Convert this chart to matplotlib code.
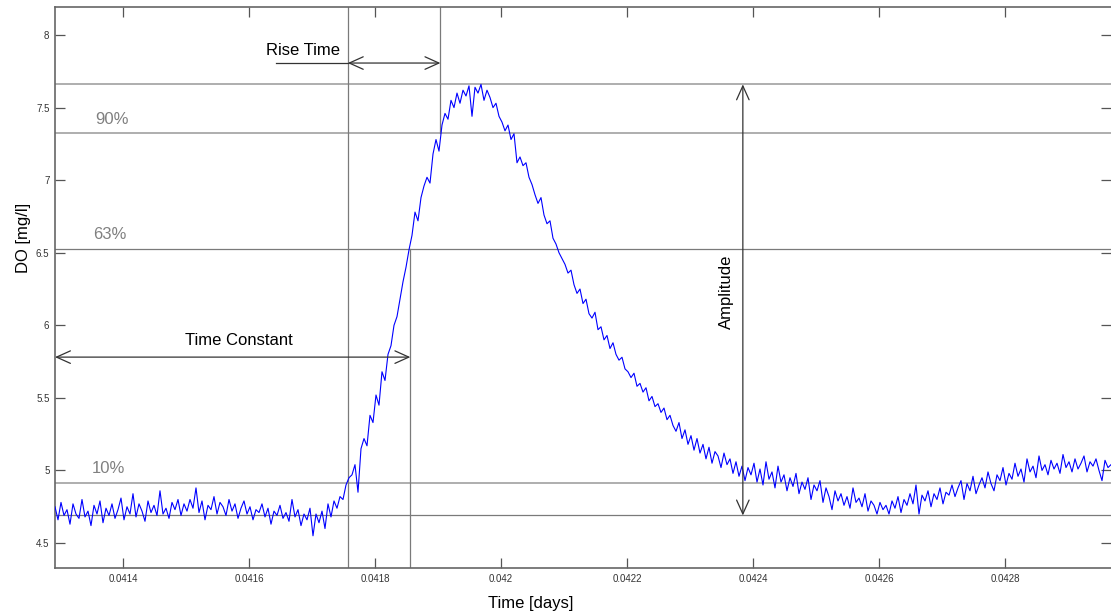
"""DO sensor step response: rise time, time constant and amplitude annotations."""

import matplotlib

matplotlib.use("Agg")
import matplotlib.pyplot as plt  # noqa: E402
import numpy as np  # noqa: E402
from matplotlib.patches import FancyArrowPatch  # noqa: E402

plt.rcParams["font.family"] = ["Liberation Sans", "DejaVu Sans"]

# sample clock of the logger (days)
T_START = 0.041292
T_END = 0.042968

# DO readings [mg/l] (one value every ~4.8e-6 days)
do_baseline = [
    4.75, 4.66, 4.78, 4.69, 4.73, 4.63, 4.77, 4.70, 4.67, 4.80, 4.68, 4.72, 4.62, 4.76, 4.70, 4.79, 4.64, 4.74, 4.69, 4.77, 4.67,
    4.73, 4.81, 4.66, 4.75, 4.70, 4.84, 4.68, 4.77, 4.72, 4.65, 4.79, 4.71, 4.76, 4.69, 4.86, 4.70, 4.74, 4.67, 4.78, 4.73, 4.80,
    4.69, 4.77, 4.72, 4.80, 4.74, 4.88, 4.71, 4.79, 4.66, 4.76, 4.73, 4.82, 4.70, 4.78, 4.75, 4.69, 4.80, 4.72, 4.77, 4.67, 4.74,
    4.79, 4.70, 4.75, 4.66, 4.73, 4.71, 4.77, 4.68, 4.74, 4.63, 4.72, 4.69, 4.76, 4.67, 4.71, 4.65, 4.80, 4.68, 4.73, 4.62, 4.70,
    4.66, 4.74, 4.55, 4.70, 4.64, 4.72, 4.60, 4.77, 4.68, 4.79, 4.74,
]
do_pulse = [
    4.82, 4.80, 4.90, 4.95, 4.97, 5.04, 4.85, 5.15, 5.22, 5.17, 5.38, 5.33, 5.52, 5.45, 5.68, 5.62, 5.80, 5.86, 6.00, 6.06,
    6.18, 6.30, 6.40, 6.52, 6.62, 6.78, 6.72, 6.88, 6.96, 7.02, 6.98, 7.18, 7.28, 7.20, 7.38, 7.46, 7.42, 7.55, 7.50, 7.60,
    7.53, 7.62, 7.58, 7.65, 7.44, 7.64, 7.60, 7.66, 7.55, 7.62, 7.57, 7.50, 7.53, 7.44, 7.40, 7.34, 7.38, 7.28, 7.32, 7.12,
    7.16, 7.10, 7.12, 7.02, 6.97, 6.90, 6.84, 6.88, 6.76, 6.70, 6.72, 6.60, 6.56, 6.50, 6.46, 6.42, 6.36, 6.38, 6.28, 6.22,
    6.25, 6.15, 6.18, 6.08, 6.05, 6.09, 5.97, 5.99, 5.90, 5.93, 5.84, 5.88, 5.80, 5.76, 5.78, 5.70, 5.68, 5.64, 5.67, 5.58,
    5.60, 5.54, 5.57, 5.48, 5.51, 5.44, 5.46, 5.40, 5.43, 5.35, 5.38, 5.31, 5.27, 5.33, 5.22, 5.28, 5.18, 5.24, 5.14, 5.22,
    5.12, 5.18, 5.08, 5.16, 5.05, 5.13, 5.10, 5.02, 5.12, 5.04, 5.08, 4.98, 5.06, 4.96, 5.03, 4.93, 5.02, 4.97, 5.05, 4.92,
]
do_recovery = [
    5.01, 4.90, 5.06, 4.94, 4.99, 4.88, 5.03, 4.92, 4.97, 4.86, 4.95, 4.89, 4.98, 4.84, 4.92, 4.87, 4.95, 4.80, 4.90, 4.86, 4.93,
    4.78, 4.88, 4.82, 4.73, 4.86, 4.79, 4.84, 4.76, 4.82, 4.74, 4.88, 4.78, 4.81, 4.75, 4.84, 4.72, 4.79, 4.76, 4.70, 4.78, 4.73,
    4.76, 4.70, 4.79, 4.74, 4.82, 4.71, 4.80, 4.76, 4.84, 4.77, 4.90, 4.70, 4.83, 4.79, 4.86, 4.75, 4.84, 4.80, 4.88, 4.77, 4.85,
    4.83, 4.90, 4.82, 4.88, 4.93, 4.80, 4.91, 4.86, 4.96, 4.84, 4.90, 4.95, 4.88, 4.99, 4.91, 4.86, 4.97, 4.93, 5.02, 4.90, 4.98,
    4.94, 5.05, 4.96, 5.01, 4.92, 5.08, 4.99, 5.03, 4.95, 5.10, 5.00, 5.04, 4.97, 5.07, 5.01, 5.05, 4.98, 5.11, 5.02, 5.06, 4.99,
    5.08, 5.01, 5.05, 5.10, 4.99, 5.06, 5.03, 5.08, 5.00, 4.93, 5.07, 5.02, 5.04,
]

# reference levels [mg/l]
LEVEL_MAX = 7.66
LEVEL_90 = 7.323
LEVEL_63 = 6.526
LEVEL_10 = 4.913
LEVEL_MIN = 4.69

# reference times [days]
T_10 = 0.0417567
T_63 = 0.041856
T_90 = 0.0419037
T_AMP = 0.0423837

XTICKS = [0.0414, 0.0416, 0.0418, 0.0420, 0.0422, 0.0424, 0.0426, 0.0428]
XTICK_LABELS = ["0.0414", "0.0416", "0.0418", "0.042", "0.0422", "0.0424", "0.0426", "0.0428"]
YTICKS = [4.5, 5, 5.5, 6, 6.5, 7, 7.5, 8]
YTICK_LABELS = ["4.5", "5", "5.5", "6", "6.5", "7", "7.5", "8"]


def arrow(ax, p0, p1):
    ax.add_patch(FancyArrowPatch(p0, p1, arrowstyle="<->,head_length=10,head_width=4.5",
                                 mutation_scale=1, color="#333333", lw=0.9,
                                 shrinkA=0, shrinkB=0, zorder=4))


def main():
    do = np.array(do_baseline + do_pulse + do_recovery)
    t = np.linspace(T_START, T_END, len(do))

    fig = plt.figure(figsize=(11.11, 6.15), dpi=100)
    ax = fig.add_axes([0.0495, 0.0764, 0.9505, 0.9122])
    ax.set_xlim(T_START, T_END)
    ax.set_ylim(4.328, 8.193)

    # reference lines
    light = dict(color="#a8a8a8", lw=1.3, zorder=1)
    dark = dict(color="#7a7a7a", lw=0.9, zorder=1)
    ax.axhline(LEVEL_MAX, **light)
    ax.axhline(LEVEL_90, **light)
    ax.axhline(LEVEL_63, **dark)
    ax.axhline(LEVEL_10, **light)
    ax.axhline(LEVEL_MIN, **dark)
    ax.axvline(T_10, **dark)
    ax.plot([T_63, T_63], [4.328, LEVEL_63], **dark)
    ax.plot([T_90, T_90], [LEVEL_90, 8.193], **dark)

    ax.plot(t, do, color="#0000ff", lw=0.8, zorder=3)

    # annotations
    y_rise = 7.807
    ax.plot([0.041643, T_10], [y_rise, y_rise], color="#333333", lw=0.9)
    arrow(ax, (T_10, y_rise), (T_90, y_rise))
    ax.text(0.0416857, 7.89, "Rise Time", fontsize=12, ha="center", va="center")

    arrow(ax, (T_START, 5.781), (T_63, 5.781))
    ax.text(0.0415841, 5.893, "Time Constant", fontsize=12, ha="center", va="center")

    arrow(ax, (T_AMP, LEVEL_MIN), (T_AMP, LEVEL_MAX))
    ax.text(0.0423571, 6.23, "Amplitude", fontsize=12, rotation=90, ha="center", va="center")

    pct = dict(fontsize=12, color="#808080", ha="left", va="center")
    ax.text(0.0413556, 7.42, "90%", **pct)
    ax.text(0.0413524, 6.623, "63%", **pct)
    ax.text(0.0413508, 5.011, "10%", **pct)

    # axes styling
    ax.set_xticks(XTICKS, XTICK_LABELS)
    ax.set_yticks(YTICKS, YTICK_LABELS)
    ax.tick_params(direction="in", length=7, width=0.9, color="#555555", labelsize=7,
                   labelcolor="#333333", top=True, right=True, pad=4)
    for side in ["left", "bottom", "top"]:
        ax.spines[side].set_color("#666666")
        ax.spines[side].set_linewidth(1.2)
    ax.spines["right"].set_visible(False)

    ax.set_xlabel("Time [days]", fontsize=12)
    ax.set_ylabel("DO [mg/l]", fontsize=12)
    ax.xaxis.set_label_coords(0.45, -0.05)
    ax.yaxis.set_label_coords(-0.023, 0.588)

    fig.savefig("out.png", dpi=100)


if __name__ == "__main__":
    main()
